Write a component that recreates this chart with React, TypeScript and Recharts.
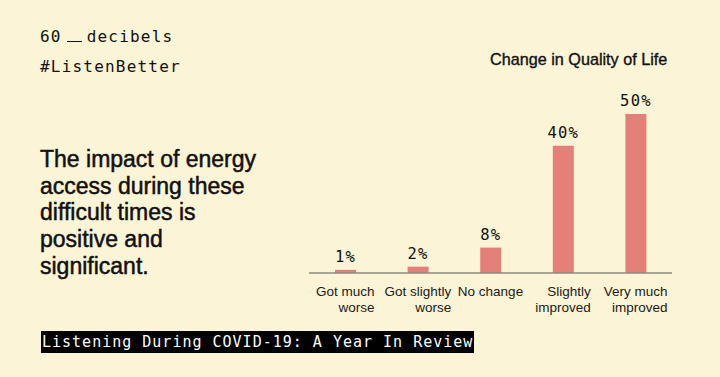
import { BarChart, Bar, XAxis, YAxis, LabelList } from 'recharts';

// 数据
const categories = ['Got much\nworse', 'Got slightly\nworse', 'No change', 'Slightly\nimproved', 'Very much\nimproved'];
const shares = [1, 2, 8, 40, 50];
const headline = ['The impact of energy', 'access during these', 'difficult times is', 'positive and', 'significant.'];

const data = categories.map((name, i) => ({ name, value: shares[i] }));

const BG = '#fcf4d6';
const BAR = '#e4807a';
const SANS = '"Liberation Sans", Arial, sans-serif';
const MONO = '"DejaVu Sans Mono", monospace';
const TICK_FONT = `13.5px ${SANS}`;

let ctx: CanvasRenderingContext2D | null = null;
function textWidth(s: string) {
    if (!ctx) ctx = document.createElement('canvas').getContext('2d');
    if (!ctx) return s.length * 7;
    ctx.font = TICK_FONT;
    return ctx.measureText(s).width;
}

// 多行刻度，行内右对齐，整体居中
function CategoryTick({ x, y, payload }: any) {
    const lines = String(payload.value).split('\n');
    const w = Math.max(...lines.map(textWidth));
    return (
        <g transform={`translate(${x + w / 2},${y})`}>
            {lines.map((l, i) => (
                <text key={i} x={0} y={15 + i * 16} textAnchor="end" fill="#1a1a1a"
                    style={{ font: TICK_FONT }}>
                    {l}
                </text>
            ))}
        </g>
    );
}

export default function App() {
    return (
        <div style={{ position: 'absolute', left: 0, top: 0, width: 720, height: 377, background: BG, overflow: 'hidden', color: '#111' }}>
            <div style={{ position: 'absolute', left: 40, top: 27, fontFamily: MONO, fontSize: 16, letterSpacing: 1.2, whiteSpace: 'nowrap' }}>
                60
                <span style={{ display: 'inline-block', width: 15, height: 14, borderBottom: '1.5px solid #111', margin: '0 5px 0 5px', verticalAlign: 'baseline' }} />
                decibels
            </div>
            <div style={{ position: 'absolute', left: 40, top: 57, fontFamily: MONO, fontSize: 16, letterSpacing: 1.2 }}>
                #ListenBetter
            </div>
            <div style={{ position: 'absolute', left: 40, top: 146, fontFamily: SANS, fontSize: 23, lineHeight: '26.7px', WebkitTextStroke: '0.5px #111', whiteSpace: 'nowrap' }}>
                {headline.map((l) => <div key={l}>{l}</div>)}
            </div>
            <div style={{ position: 'absolute', left: 490, top: 50, fontFamily: SANS, fontSize: 16.2, WebkitTextStroke: '0.35px #111', whiteSpace: 'nowrap' }}>
                Change in Quality of Life
            </div>
            <div style={{ position: 'absolute', left: 41, top: 331, height: 22, lineHeight: '22px', padding: '0 1px', background: '#000', color: '#fff', fontFamily: MONO, fontSize: 15, letterSpacing: 1 }}>
                Listening During COVID-19: A Year In Review
            </div>
            <div style={{ position: 'absolute', left: 0, top: 0 }}>
                <BarChart width={720} height={377} data={data} margin={{ top: 114, right: 48, left: 309, bottom: 44 }}>
                    <XAxis
                        dataKey="name"
                        height={60}
                        interval={0}
                        tickLine={false}
                        axisLine={{ stroke: '#8c8a80', strokeWidth: 1.5 }}
                        tick={<CategoryTick />}
                    />
                    <YAxis hide domain={[0, 50]} />
                    <Bar dataKey="value" fill={BAR} barSize={21} isAnimationActive={false}>
                        <LabelList
                            dataKey="value"
                            position="top"
                            offset={8}
                            formatter={(v: any) => `${v}%`}
                            style={{ fontFamily: MONO, fontSize: 15.5, letterSpacing: 1.2, fill: '#111' }}
                        />
                    </Bar>
                </BarChart>
            </div>
        </div>
    );
}
